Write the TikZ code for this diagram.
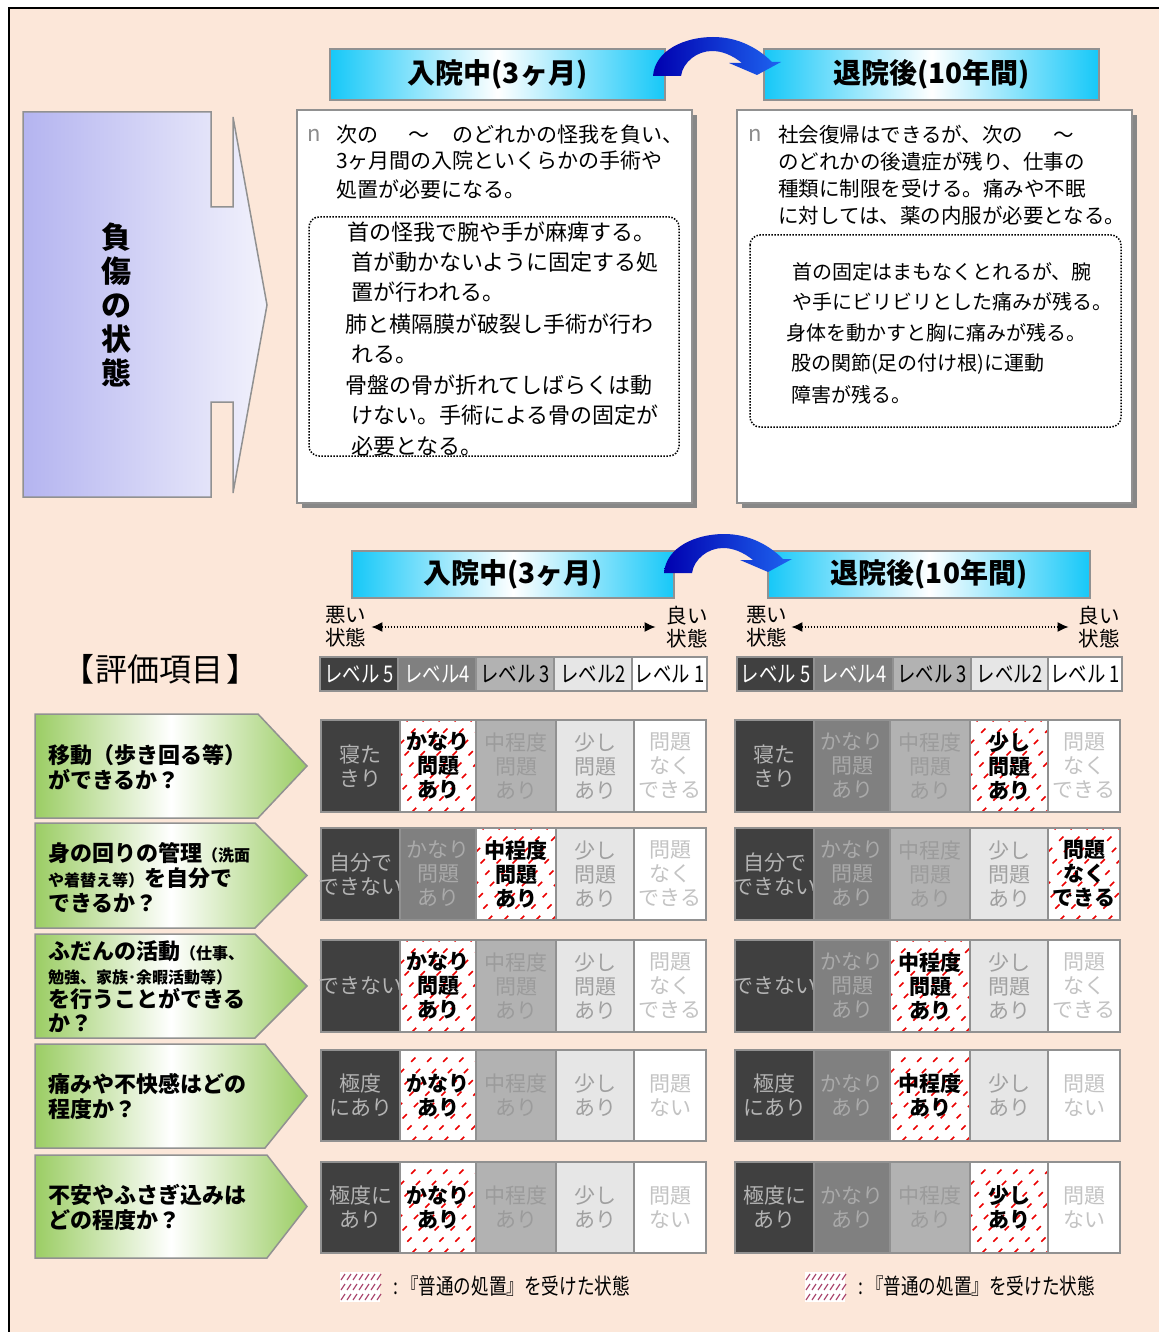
\documentclass[tikz,border=0pt]{standalone}
\usepackage{fontspec}
\setmainfont{Noto Sans CJK JP}
\newfontfamily\condjp[FakeStretch=0.8]{Noto Sans CJK JP}
\usetikzlibrary{arrows.meta,positioning,calc}

\definecolor{peach}{RGB}{252,231,217}
\definecolor{edgegray}{RGB}{145,145,145}
\definecolor{shadowgray}{RGB}{135,135,135}
\definecolor{skyc}{RGB}{22,200,248}
\definecolor{leafg}{RGB}{155,205,100}
\definecolor{lilac}{RGB}{180,180,240}
\definecolor{lilacpale}{RGB}{242,242,252}
\definecolor{navyA}{RGB}{0,0,175}
\definecolor{navyB}{RGB}{30,100,240}
\definecolor{lvfive}{RGB}{64,64,64}
\definecolor{lvfour}{RGB}{128,128,128}
\definecolor{lvthree}{RGB}{178,178,178}
\definecolor{lvtwo}{RGB}{230,230,230}
\definecolor{lvone}{RGB}{255,255,255}
\definecolor{txfive}{RGB}{180,180,180}
\definecolor{txfour}{RGB}{170,170,170}
\definecolor{txthree}{RGB}{155,155,155}
\definecolor{txtwo}{RGB}{160,160,160}
\definecolor{txone}{RGB}{195,195,195}
\definecolor{hatchred}{RGB}{235,0,0}
\definecolor{legendpink}{RGB}{170,70,110}
\definecolor{bulletgray}{RGB}{140,140,140}

\newcommand{\jsize}[2]{\fontsize{#1}{#2}\selectfont}

\tikzset{
	>={Latex[length=11pt,width=10pt]},
	greyline/.style={draw=edgegray, line width=1.5},
	period/.style={greyline, left color=skyc, right color=skyc, middle color=white, minimum height=51, inner sep=0pt, font=\bfseries\jsize{28}{30}},
	introtxt/.style={anchor=west, inner sep=0pt, font=\jsize{21}{27}},
	introR/.style={anchor=west, inner sep=0pt, font=\jsize{20.5}{27}},
	pointA/.style={anchor=west, inner sep=0pt, font=\jsize{22}{30}},
	pointB/.style={anchor=west, inner sep=0pt, font=\jsize{20}{30}},
	bullet/.style={inner sep=0pt, text=bulletgray, font=\jsize{22}{22}},
	endtxt/.style={align=left, inner sep=2pt, font=\jsize{20.5}{23}},
	dotarrow/.style={<->, line width=1.5, dash pattern=on 1.5pt off 1.5pt},
	itemtxt/.style={anchor=west, align=left, inner sep=0pt, font=\bfseries\jsize{22}{25}},
	lvtxt/.style={inner sep=0pt, font=\condjp\jsize{23}{24}},
	celltxt/.style={align=center, inner sep=0pt, font=\jsize{21}{24}},
	hittxt/.style={celltxt, text=black, font=\bfseries\jsize{21}{24}},
	hatch/.style={hatchred, line width=1.5, dash pattern=on 6pt off 10pt},
	keytxt/.style={anchor=west, inner sep=0pt, font=\condjp\jsize{22}{22}}
}

% texts of the four right-hand cells
\newcommand{\cellslong}[1]{\ifcase#1\or\or かなり\\問題\\あり\or 中程度\\問題\\あり\or 少し\\問題\\あり\or 問題\\なく\\できる\fi}
\newcommand{\cellsshort}[1]{\ifcase#1\or\or かなり\\あり\or 中程度\\あり\or 少し\\あり\or 問題\\ない\fi}

% #1 x shift, #2 top, #3 bottom, #4 marked column, #5 first cell, #6 long (1) or short (0)
\newcommand{\levelrow}[6]{%
	\begin{scope}[xshift=#1]
	\foreach \c/\xa/\xb/\fc/\tc in {1/321/400/lvfive/txfive, 2/400/476/lvfour/txfour, 3/476/556/lvthree/txthree, 4/556/634/lvtwo/txtwo, 5/634/706/lvone/txone}{
		\ifnum\c=#4
			\fill[white] (\xa,#2) rectangle (\xb,#3);
			\begin{scope}
				\clip (\xa,#2) rectangle (\xb,#3);
				\foreach \k in {-100,-84,...,92}
					\draw[hatch] (\xa+\k,#3) -- ++(100,-100);
			\end{scope}
			\draw[greyline] (\xa,#2) rectangle (\xb,#3);
			\node[hittxt] (r#1-#2-\c) at ({(\xa+\xb)/2},{(#2+#3)/2}) {\ifnum#6=1 \cellslong{\c}\else\cellsshort{\c}\fi};
		\else
			\draw[greyline, fill=\fc] (\xa,#2) rectangle (\xb,#3);
			\node[celltxt, text=\tc] (r#1-#2-\c) at ({(\xa+\xb)/2},{(#2+#3)/2}) {\ifnum\c=1 #5\else\ifnum#6=1 \cellslong{\c}\else\cellsshort{\c}\fi\fi};
		\fi
	}
	\end{scope}
}

% green item arrow: top, bottom, end of body
\newcommand{\itemarrow}[3]{%
	\shadedraw[left color=leafg, right color=leafg, middle color=white, greyline]
		(35,#1) -- (#3,#1) -- (307,{(#1+#2)/2}) -- (#3,#2) -- (35,#2) -- cycle;}

% curved blue arrow, shifted
\newcommand{\hoparrow}[2]{%
	\shade[left color=navyA, right color=navyB, shift={(#1,#2)}]
		(653,76) .. controls (655,50) and (685,37) .. (713,37) .. controls (738,37) and (758,48) .. (772,62)
		-- (781,62) -- (757,75) -- (729,63) -- (742,63)
		.. controls (732,55) and (722,51) .. (712,51) .. controls (697,51) and (683,62) .. (681,76) -- cycle;}

\newcommand{\legendkey}[1]{%
	\fill[white] (#1,1272) rectangle ++(40,30);
	\foreach \r in {1280,1290,1300}
		\foreach \s in {0,6,...,36}
			\draw[legendpink, line width=1.2] (#1+\s+1,\r) -- ++(4,-6);}

\begin{document}
\begin{tikzpicture}[x=1pt, y=-1pt]
	\useasboundingbox (0,0) rectangle (1159,1332);
	\fill[white] (0,0) rectangle (1159,1332);
	\fill[peach] (9,8) rectangle (1159,1332);
	\draw[line width=2] (9,1332) -- (9,8) -- (1159,8);

	% left block arrow
	\shadedraw[left color=lilac, right color=lilacpale, greyline]
		(23,112) -- (211,112) -- (211,207) -- (233,207) -- (233,117) -- (267,305) -- (233,493) -- (233,402) -- (211,402) -- (211,497) -- (23,497) -- cycle;
	\node[align=center, inner sep=0pt, font=\bfseries\jsize{30}{34}] (injury) at (116,305) {負\\傷\\の\\状\\態};

	% upper headers
	\node[period, minimum width=335] (stayTop) at (497.5,74.5) {入院中(3ヶ月)};
	\node[period, minimum width=335] (homeTop) at (931.5,74.5) {退院後(10年間)};
	\hoparrow{0}{0}

	% text boxes
	\fill[shadowgray] (302,115) rectangle (697,508);
	\draw[greyline, fill=white] (297,110) rectangle (692,503);
	\fill[shadowgray] (742,115) rectangle (1137,508);
	\draw[greyline, fill=white] (737,110) rectangle (1132,503);
	\draw[line width=1.5, dash pattern=on 1.5pt off 1.5pt, rounded corners=10] (309,217) rectangle (679,456);
	\draw[line width=1.5, dash pattern=on 1.5pt off 1.5pt, rounded corners=10] (750,235) rectangle (1121,427);

	\node[bullet] (dotA) at (314,135) {n};
	\node[introtxt] (introA1) at (336,135) {次の\hspace{30pt}～\hspace{23pt}のどれかの怪我を負い、};
	\node[introtxt] (introA2) at (336,161) {3ヶ月間の入院といくらかの手術や};
	\node[introtxt] (introA3) at (336,189) {処置が必要になる。};
	\foreach \yy/\xx/\tt [count=\k] in {232/347/首の怪我で腕や手が麻痺する。, 262/351/首が動かないように固定する処, 292/351/置が行われる。, 324/345/肺と横隔膜が破裂し手術が行わ, 354/351/れる。, 385/345/骨盤の骨が折れてしばらくは動, 415/351/けない。手術による骨の固定が, 446/351/必要となる。}
		\node[pointA] (caseA\k) at (\xx,\yy) {\tt};

	\node[bullet] (dotB) at (755,135) {n};
	\node[introR] (introB1) at (778,135) {社会復帰はできるが、次の\hspace{30pt}～};
	\node[introR] (introB2) at (778,162) {のどれかの後遺症が残り、仕事の};
	\node[introR] (introB3) at (778,189) {種類に制限を受ける。痛みや不眠};
	\node[introR] (introB4) at (778,216) {に対しては、薬の内服が必要となる。};
	\foreach \yy/\xx/\tt [count=\k] in {272/792/首の固定はまもなくとれるが、腕, 302/792/や手にビリビリとした痛みが残る。, 333/786/身体を動かすと胸に痛みが残る。, 364/791/股の関節(足の付け根)に運動, 395/791/障害が残る。}
		\node[pointB] (caseB\k) at (\xx,\yy) {\tt};

	% lower headers
	\node[period, minimum width=322, minimum height=47] (stayMid) at (513,574.5) {入院中(3ヶ月)};
	\node[period, minimum width=322, minimum height=47] (homeMid) at (929,574.5) {退院後(10年間)};
	\hoparrow{11}{497}

	\node[endtxt, anchor=west] (worseA) at (323,627) {悪い\\状態};
	\node[endtxt, anchor=east] (betterA) at (710,627) {良い\\状態};
	\draw[dotarrow, shorten <=3pt, shorten >=9pt] (worseA) -- (betterA);
	\node[endtxt, anchor=west] (worseB) at (744,627) {悪い\\状態};
	\node[endtxt, anchor=east] (betterB) at (1122,627) {良い\\状態};
	\draw[dotarrow, shorten <=2pt, shorten >=8pt] (worseB) -- (betterB);

	\node[inner sep=0pt, font=\jsize{32}{34}] (itemsHead) at (160,669) {【\hspace{2pt}評価項目\hspace{2pt}】};

	% level scales
	\foreach \xa/\xb/\fc/\tc/\lab [count=\c] in {320/398/lvfive/white/レベル 5, 398/476/lvfour/white/レベル4, 476/554/lvthree/black/レベル 3, 554/632/lvtwo/black/レベル2, 632/707/lvone/black/レベル 1}{
		\draw[greyline, fill=\fc] (\xa,657) rectangle (\xb,691);
		\node[lvtxt, text=\tc] (lvA\c) at ({(\xa+\xb)/2},674) {\lab};
	}
	\foreach \xa/\xb/\fc/\tc/\lab [count=\c] in {737/814/lvfive/white/レベル 5, 814/893/lvfour/white/レベル4, 893/971/lvthree/black/レベル 3, 971/1048/lvtwo/black/レベル2, 1048/1122/lvone/black/レベル 1}{
		\draw[greyline, fill=\fc] (\xa,657) rectangle (\xb,691);
		\node[lvtxt, text=\tc] (lvB\c) at ({(\xa+\xb)/2},674) {\lab};
	}

	% items
	\itemarrow{714}{818}{258}
	\itemarrow{823}{928}{255}
	\itemarrow{934}{1038}{255}
	\itemarrow{1044}{1148}{265}
	\itemarrow{1155}{1258}{267}
	\node[itemtxt] (move) at (48,767) {移動（歩き回る等）\\ができるか？};
	\node[itemtxt] (care) at (48,878) {身の回りの管理{\jsize{16}{16}（洗面}\\{\jsize{16}{16}や着替え等）}を自分で\\できるか？};
	\node[itemtxt, font=\bfseries\jsize{22}{24}] (daily) at (48,987) {ふだんの活動{\jsize{16}{16}（仕事、}\\{\jsize{16}{16}勉強、家族･余暇活動等）}\\を行うことができる\\か？};
	\node[itemtxt] (pain) at (48,1097) {痛みや不快感はどの\\程度か？};
	\node[itemtxt] (mood) at (48,1207.5) {不安やふさぎ込みは\\どの程度か？};

	% ratings
	\levelrow{0}{720}{812}{2}{寝た\\きり}{1}
	\levelrow{0}{828}{920}{3}{自分で\\できない}{1}
	\levelrow{0}{940}{1032}{2}{できない}{1}
	\levelrow{0}{1050}{1141}{2}{極度\\にあり}{0}
	\levelrow{0}{1162}{1253}{2}{極度に\\あり}{0}
	\levelrow{414}{720}{812}{4}{寝た\\きり}{1}
	\levelrow{414}{828}{920}{5}{自分で\\できない}{1}
	\levelrow{414}{940}{1032}{3}{できない}{1}
	\levelrow{414}{1050}{1141}{3}{極度\\にあり}{0}
	\levelrow{414}{1162}{1253}{4}{極度に\\あり}{0}

	% legend
	\legendkey{340}
	\node[keytxt] (keyA) at (393,1286) {:\hspace{3pt}『普通の処置』を受けた状態};
	\legendkey{805}
	\node[keytxt] (keyB) at (858,1286) {:\hspace{3pt}『普通の処置』を受けた状態};
\end{tikzpicture}
\end{document}
